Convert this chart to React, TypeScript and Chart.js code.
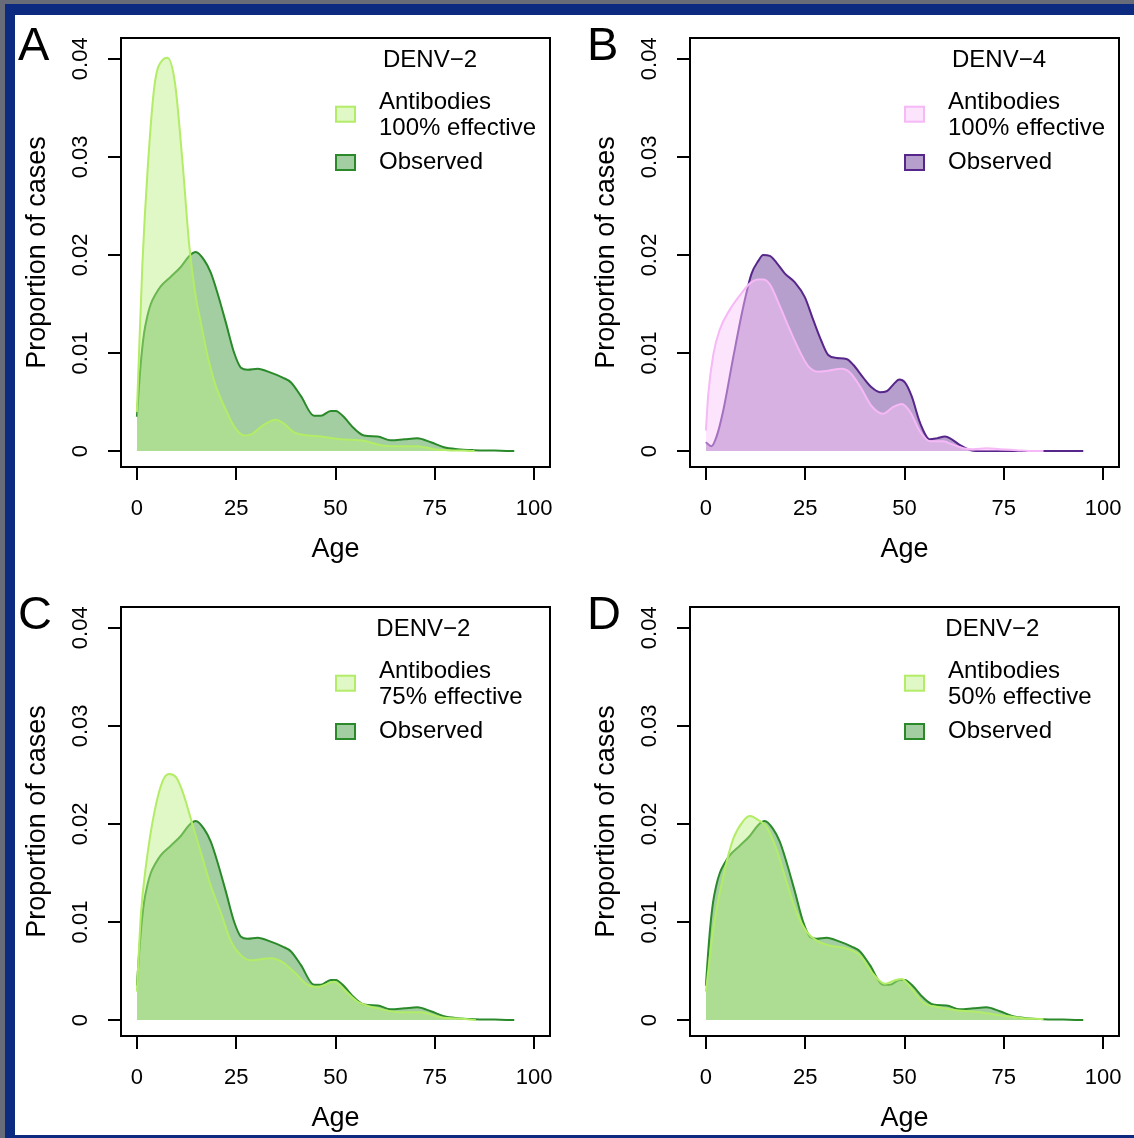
import React, { useEffect, useRef } from 'react';
import { Chart, registerables } from 'chart.js';

Chart.register(...registerables);

// ---------- axis ticks ----------
const xTicks = [0, 25, 50, 75, 100];
const yTicks = [0, 0.01, 0.02, 0.03, 0.04];
const yTickLabels = ['0', '0.01', '0.02', '0.03', '0.04'];

// ---------- observed DENV-2 (panels A, C, D) ----------
const obsDenv2Age = [0, 0.5, 1.1, 1.8, 2.6, 3.5, 4.7, 6, 8.6, 11.1, 13.2, 14.8, 16.9, 18.6, 20.3, 22.4, 24.5, 26.2, 27.9, 30.4, 33.7, 36.7, 38.8, 41.3, 44.6, 46.3, 48.8, 50.1, 51.8, 54.7, 57.2, 60.6, 63.9, 67.3, 70.6, 74, 77.3, 80.7, 84.9, 90, 95];
const obsDenv2 = [0.0035, 0.0065, 0.0095, 0.0120, 0.0137, 0.0150, 0.0160, 0.0168, 0.0178, 0.0188, 0.0199, 0.0203, 0.0195, 0.0182, 0.0161, 0.0131, 0.0100, 0.0085, 0.0083, 0.0084, 0.0080, 0.0075, 0.0070, 0.0056, 0.0036, 0.0036, 0.0041, 0.0041, 0.0036, 0.0023, 0.0016, 0.0015, 0.0011, 0.0012, 0.0013, 0.0009, 0.0004, 0.0002, 0.0001, 0.00005, 0];

// ---------- antibodies 100% effective, DENV-2 (panel A) ----------
const ab100Denv2Age = [0, 1.4, 2.7, 4.4, 6.5, 7.7, 9.6, 11.5, 13.2, 14.8, 16.1, 17.8, 19.9, 22.4, 24.5, 27, 28.7, 32, 35, 36.7, 39.6, 43, 46.3, 51.3, 56.4, 61.4, 66.4, 70.6, 74.8, 78, 82, 85];
const ab100Denv2 = [0.004, 0.0192, 0.0287, 0.0372, 0.0399, 0.0401, 0.0375, 0.0294, 0.0209, 0.0158, 0.0131, 0.0097, 0.0066, 0.0042, 0.0025, 0.0016, 0.0017, 0.0027, 0.0032, 0.0029, 0.0019, 0.0016, 0.0015, 0.0012, 0.0011, 0.0006, 0.0005, 0.0005, 0.0002, 0.0001, 0.00005, 0];

// ---------- observed DENV-4 (panel B) ----------
const obsDenv4Age = [0, 1.4, 2.7, 4.4, 6.9, 9.4, 11.5, 13.2, 14.4, 16.1, 17.8, 19.9, 22.4, 24.9, 27, 29.1, 30.8, 32.9, 35.4, 37.1, 39.6, 41.7, 43.8, 45.5, 47.2, 48.7, 50.1, 51.8, 53.9, 56.4, 58.1, 60.2, 61.9, 64, 66.5, 68, 80, 95];
const obsDenv4 = [0.0009, 0.0005, 0.0015, 0.0042, 0.0096, 0.0147, 0.0181, 0.0194, 0.0200, 0.0199, 0.0192, 0.0181, 0.0172, 0.0157, 0.0134, 0.0112, 0.0098, 0.0095, 0.0094, 0.0088, 0.0075, 0.0065, 0.0060, 0.0061, 0.0068, 0.0073, 0.0070, 0.0056, 0.0029, 0.0012, 0.0013, 0.0015, 0.0012, 0.0006, 0.0001, 0, 0, 0];

// ---------- antibodies 100% effective, DENV-4 (panel B) ----------
const ab100Denv4Age = [0, 0.6, 1.85, 3.5, 6, 8.6, 11.1, 13.2, 14.4, 16.1, 18.6, 21.1, 23.7, 25.7, 28.3, 30.8, 34.2, 36.3, 38.8, 41.7, 44.6, 47.2, 49.3, 51.4, 53.9, 56.4, 59.8, 61.9, 64.8, 67.3, 70.7, 74, 78.2, 82.3, 85];
const ab100Denv4 = [0.0021, 0.0058, 0.0098, 0.0124, 0.0144, 0.0159, 0.0171, 0.0175, 0.0175, 0.0170, 0.0148, 0.0124, 0.0101, 0.0087, 0.0081, 0.0082, 0.0084, 0.0080, 0.0066, 0.0046, 0.0038, 0.0045, 0.0048, 0.0040, 0.0020, 0.0010, 0.0010, 0.0007, 0.0003, 0.0002, 0.0003, 0.0002, 0.0001, 0, 0];

// ---------- antibodies 75% effective, DENV-2 (panel C) ----------
const ab75Denv2Age = [0, 1, 2.3, 4.4, 6.5, 8.1, 9.8, 11.5, 13.6, 16.1, 18.6, 21.1, 23.7, 26.2, 28.7, 33.7, 36.7, 39.6, 43, 45.5, 49.7, 52.2, 55.5, 60.6, 66.4, 71.5, 76.5, 83.2, 85.3];
const ab75Denv2 = [0.0029, 0.0107, 0.0158, 0.0212, 0.0244, 0.0251, 0.0248, 0.0233, 0.0205, 0.0171, 0.0137, 0.0110, 0.0080, 0.0066, 0.0061, 0.0063, 0.0059, 0.0049, 0.0036, 0.0034, 0.0039, 0.0031, 0.0019, 0.0012, 0.0008, 0.0008, 0.0003, 0.0001, 0];

// ---------- antibodies 50% effective, DENV-2 (panel D) ----------
const ab50Denv2Age = [0, 1.85, 4.4, 6.9, 9.4, 11.1, 13.2, 15.3, 17.8, 20.3, 22.8, 25.4, 27.9, 31.2, 35.4, 38.8, 42.1, 45.1, 47.2, 49.3, 51.4, 54.7, 58.9, 63.1, 69, 74, 79.9, 85];
const ab50Denv2 = [0.0029, 0.0093, 0.0147, 0.0185, 0.0203, 0.0208, 0.0204, 0.0197, 0.0174, 0.0141, 0.0110, 0.0090, 0.0081, 0.0076, 0.0073, 0.0066, 0.0047, 0.0037, 0.0040, 0.0042, 0.0034, 0.0018, 0.0013, 0.0010, 0.0008, 0.0005, 0.0002, 0.0001];

const FONT = '"Liberation Sans", Arial, Helvetica, sans-serif';

const GREEN = {
  lightLine: '#b3ec66',
  lightFill: 'rgba(186,237,128,0.45)',
  obsLine: '#2a8a2a',
  obsFill: 'rgba(48,146,48,0.45)',
};
const PURPLE = {
  lightLine: '#f6b8f6',
  lightFill: 'rgba(251,197,251,0.47)',
  obsLine: '#56268a',
  obsFill: 'rgba(95,42,144,0.45)',
};

type Pal = typeof GREEN;

interface PanelSpec {
  letter: string;
  title: string;
  effLabel: string;
  lightAge: number[];
  lightVals: number[];
  obsAge: number[];
  obsVals: number[];
  pal: Pal;
  left: number;
  top: number;
  width: number;
  rightPad: number;
}

const zip = (xs: number[], ys: number[]) => xs.map((x, i) => ({ x, y: ys[i] }));

function Panel({ spec }: { spec: PanelSpec }) {
  const ref = useRef<HTMLCanvasElement | null>(null);
  useEffect(() => {
    const canvas = ref.current;
    if (!canvas) return;
    const p = spec.pal;
    const deco = {
      id: 'deco' + spec.letter,
      afterDraw(chart: any) {
        const { ctx, chartArea: a } = chart;
        ctx.save();
        // frame box
        ctx.strokeStyle = '#000';
        ctx.lineWidth = 2;
        ctx.strokeRect(a.left, a.top, a.right - a.left, a.bottom - a.top);
        // panel letter
        ctx.fillStyle = '#000';
        ctx.textBaseline = 'alphabetic';
        ctx.textAlign = 'left';
        ctx.font = `47px ${FONT}`;
        ctx.fillText(spec.letter, a.left - 103, a.top + 22);
        // legend
        ctx.font = `24px ${FONT}`;
        const sqL = a.left + 215;
        const txL = a.left + 258;
        const lines = ['Antibodies', spec.effLabel, 'Observed'];
        const maxW = Math.max(...lines.map((l) => ctx.measureText(l).width));
        const titleC = (sqL + txL + maxW) / 2 - 6;
        ctx.textAlign = 'center';
        ctx.fillText(spec.title, titleC, a.top + 28.7);
        ctx.textAlign = 'left';
        ctx.fillText(lines[0], txL, a.top + 70.5);
        ctx.fillText(lines[1], txL, a.top + 97);
        ctx.fillText(lines[2], txL, a.top + 131);
        ctx.lineWidth = 2;
        ctx.fillStyle = p.lightFill;
        ctx.fillRect(sqL, a.top + 68.7, 19, 15);
        ctx.strokeStyle = p.lightLine;
        ctx.strokeRect(sqL, a.top + 68.7, 19, 15);
        ctx.fillStyle = p.obsFill;
        ctx.fillRect(sqL, a.top + 117, 19, 15);
        ctx.strokeStyle = p.obsLine;
        ctx.strokeRect(sqL, a.top + 117, 19, 15);
        ctx.restore();
      },
    };
    const tickFont = { family: FONT, size: 22 };
    const titleFont = { family: FONT, size: 27 };
    const chart = new Chart(canvas, {
      type: 'line',
      data: {
        datasets: [
          {
            label: 'Antibodies ' + spec.effLabel,
            data: zip(spec.lightAge, spec.lightVals),
            borderColor: p.lightLine,
            backgroundColor: p.lightFill,
            fill: 'origin',
            borderWidth: 2,
            pointRadius: 0,
            cubicInterpolationMode: 'monotone',
          },
          {
            label: 'Observed',
            data: zip(spec.obsAge, spec.obsVals),
            borderColor: p.obsLine,
            backgroundColor: p.obsFill,
            fill: 'origin',
            borderWidth: 2,
            pointRadius: 0,
            cubicInterpolationMode: 'monotone',
          },
        ],
      },
      options: {
        responsive: false,
        animation: false,
        devicePixelRatio: 1,
        layout: { padding: { top: 38, right: spec.rightPad, left: 0, bottom: 0 } },
        plugins: { legend: { display: false }, tooltip: { enabled: false } },
        scales: {
          x: {
            type: 'linear',
            min: -4,
            max: 104,
            afterBuildTicks: (s: any) => {
              s.ticks = xTicks.map((v) => ({ value: v }));
            },
            afterFit: (s: any) => {
              s.height = 102;
              s.paddingLeft = 0;
              s.paddingRight = 0;
            },
            ticks: {
              autoSkip: false,
              minRotation: 0,
              maxRotation: 0,
              padding: 16,
              color: '#000',
              font: tickFont,
              callback: (v: any) => String(v),
            },
            grid: { display: true, drawOnChartArea: false, drawTicks: true, tickLength: 13, color: '#000', lineWidth: 2 },
            border: { display: false },
            title: { display: true, text: 'Age', color: '#000', font: titleFont, padding: { top: 0, bottom: 3 } },
          },
          y: {
            type: 'linear',
            min: -0.00162,
            max: 0.04212,
            afterBuildTicks: (s: any) => {
              s.ticks = yTicks.map((v) => ({ value: v }));
            },
            afterFit: (s: any) => {
              s.width = 121;
              s.paddingTop = 0;
              s.paddingBottom = 0;
            },
            ticks: {
              autoSkip: false,
              minRotation: 90,
              maxRotation: 90,
              crossAlign: 'center',
              padding: 6,
              color: '#000',
              font: tickFont,
              callback: (v: any) => {
                const i = yTicks.findIndex((t) => Math.abs(t - v) < 1e-9);
                return i >= 0 ? yTickLabels[i] : '';
              },
            },
            grid: { display: true, drawOnChartArea: false, drawTicks: true, tickLength: 13, color: '#000', lineWidth: 2 },
            border: { display: false },
            title: { display: true, text: 'Proportion of cases', color: '#000', font: titleFont, padding: { top: 21, bottom: 0 } },
          },
        },
      } as any,
      plugins: [deco],
    });
    return () => chart.destroy();
  }, [spec]);
  return (
    <canvas
      ref={ref}
      width={spec.width}
      height={569}
      style={{ position: 'absolute', left: spec.left, top: spec.top, width: spec.width, height: 569 }}
    />
  );
}

const panels: PanelSpec[] = [
  { letter: 'A', title: 'DENV\u22122', effLabel: '100% effective', lightAge: ab100Denv2Age, lightVals: ab100Denv2, obsAge: obsDenv2Age, obsVals: obsDenv2, pal: GREEN, left: 0, top: 0, width: 569, rightPad: 19 },
  { letter: 'B', title: 'DENV\u22124', effLabel: '100% effective', lightAge: ab100Denv4Age, lightVals: ab100Denv4, obsAge: obsDenv4Age, obsVals: obsDenv4, pal: PURPLE, left: 569, top: 0, width: 565, rightPad: 15 },
  { letter: 'C', title: 'DENV\u22122', effLabel: '75% effective', lightAge: ab75Denv2Age, lightVals: ab75Denv2, obsAge: obsDenv2Age, obsVals: obsDenv2, pal: GREEN, left: 0, top: 569, width: 569, rightPad: 19 },
  { letter: 'D', title: 'DENV\u22122', effLabel: '50% effective', lightAge: ab50Denv2Age, lightVals: ab50Denv2, obsAge: obsDenv2Age, obsVals: obsDenv2, pal: GREEN, left: 569, top: 569, width: 565, rightPad: 15 },
];

export default function App() {
  useEffect(() => {
    document.body.style.margin = '0';
  }, []);
  const GRAY = '#686c78';
  const NAVY = '#0b2a80';
  return (
    <div style={{ position: 'absolute', left: 0, top: 0, width: 1134, height: 1138, overflow: 'hidden', background: '#fff' }}>
      <div style={{ position: 'absolute', left: 0, top: 0, width: 1134, height: 4, background: GRAY }} />
      <div style={{ position: 'absolute', left: 0, top: 0, width: 5, height: 1138, background: GRAY }} />
      <div style={{ position: 'absolute', left: 5, top: 4, width: 1129, height: 11, background: NAVY }} />
      <div style={{ position: 'absolute', left: 5, top: 4, width: 10, height: 1134, background: NAVY }} />
      <div style={{ position: 'absolute', left: 5, top: 1135, width: 1129, height: 3, background: NAVY }} />
      {panels.map((s) => (
        <Panel key={s.letter} spec={s} />
      ))}
    </div>
  );
}
